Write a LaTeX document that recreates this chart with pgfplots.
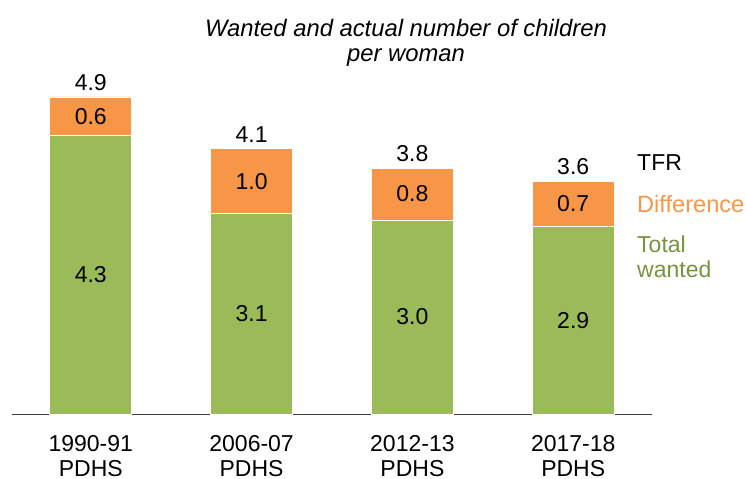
\documentclass[border=0pt]{standalone}
\usepackage{fontspec}
\setmainfont{Liberation Sans}
\usepackage{pgfplots}
\usepackage{pgfplotstable}
\pgfplotsset{compat=1.18}

\definecolor{cgreen}{HTML}{9BBB59}
\definecolor{corange}{HTML}{F79646}
\definecolor{tgreen}{HTML}{77933C}

% wanted + diff = tfr
\pgfplotstableread{
x wanted diff tfr
0 4.3 0.6 4.9
1 3.1 1.0 4.1
2 3.0 0.8 3.8
3 2.9 0.7 3.6
}\data

\newcommand{\lbl}{\fontsize{23bp}{25bp}\selectfont}

\begin{document}
\begin{tikzpicture}
\path[use as bounding box] (0,0) rectangle (746bp,479bp);

\begin{axis}[
    at={(12bp,65bp)}, anchor=south west,
    scale only axis,
    width=640bp, height=323.5bp,
    xmin=-0.49, xmax=3.49,
    ymin=0, ymax=5,
    clip=false,
    axis y line=none,
    axis x line=bottom,
    x axis line style={-, draw=black!75, line width=1bp},
    xtick={0,1,2,3},
    xticklabels={1990-91\\PDHS, 2006-07\\PDHS, 2012-13\\PDHS, 2017-18\\PDHS},
    xticklabel style={font=\lbl, align=center, anchor=north, inner sep=0pt, yshift=-21bp},
    major tick length=0pt,
    xtick style={draw=none},
    point meta=explicit,
    nodes near coords={\pgfmathprintnumber[fixed,fixed zerofill,precision=1,assume math mode=true]{\pgfplotspointmeta}},
    every node near coord/.append style={font=\lbl, text=black},
]
% orange bars to the TFR, green bars (total wanted) over them
\addplot[ybar, bar width=82bp, bar shift=0pt, fill=corange, draw=white, line width=0.6bp,
    nodes near coords=\empty]
    table[x=x, y=tfr, meta=tfr] \data;
\addplot[ybar, bar width=82bp, bar shift=0pt, fill=cgreen, draw=white, line width=0.6bp,
    nodes near coords=\empty]
    table[x=x, y=wanted, meta=wanted] \data;

% value labels
\addplot[draw=none, mark=none,
    visualization depends on={\thisrow{wanted} \as \seg},
    every node near coord/.append style={anchor=center, yshift=-0.5*\seg*64.7bp}]
    table[x=x, y=wanted, meta=wanted] \data;
\addplot[draw=none, mark=none,
    visualization depends on={\thisrow{diff} \as \seg},
    every node near coord/.append style={anchor=center, yshift=-0.5*\seg*64.7bp}]
    table[x=x, y=tfr, meta=diff] \data;
\addplot[draw=none, mark=none,
    every node near coord/.append style={anchor=south, yshift=3bp}]
    table[x=x, y=tfr, meta=tfr] \data;
\end{axis}

% title
\node[font=\fontsize{23.8bp}{25bp}\selectfont\itshape, anchor=base] at (406bp,442bp) {Wanted and actual number of children};
\node[font=\fontsize{23.8bp}{25bp}\selectfont\itshape, anchor=base] at (406bp,417bp) {per woman};

% series labels
\node[font=\lbl, anchor=base west, inner sep=0pt] at (637bp,308bp) {TFR};
\node[font=\fontsize{23.6bp}{25bp}\selectfont, anchor=base west, inner sep=0pt, text=corange] at (637bp,266bp) {Difference};
\node[font=\lbl, anchor=base west, inner sep=0pt, text=tgreen] at (637bp,226bp) {Total};
\node[font=\lbl, anchor=base west, inner sep=0pt, text=tgreen] at (637bp,201bp) {wanted};
\end{tikzpicture}
\end{document}
